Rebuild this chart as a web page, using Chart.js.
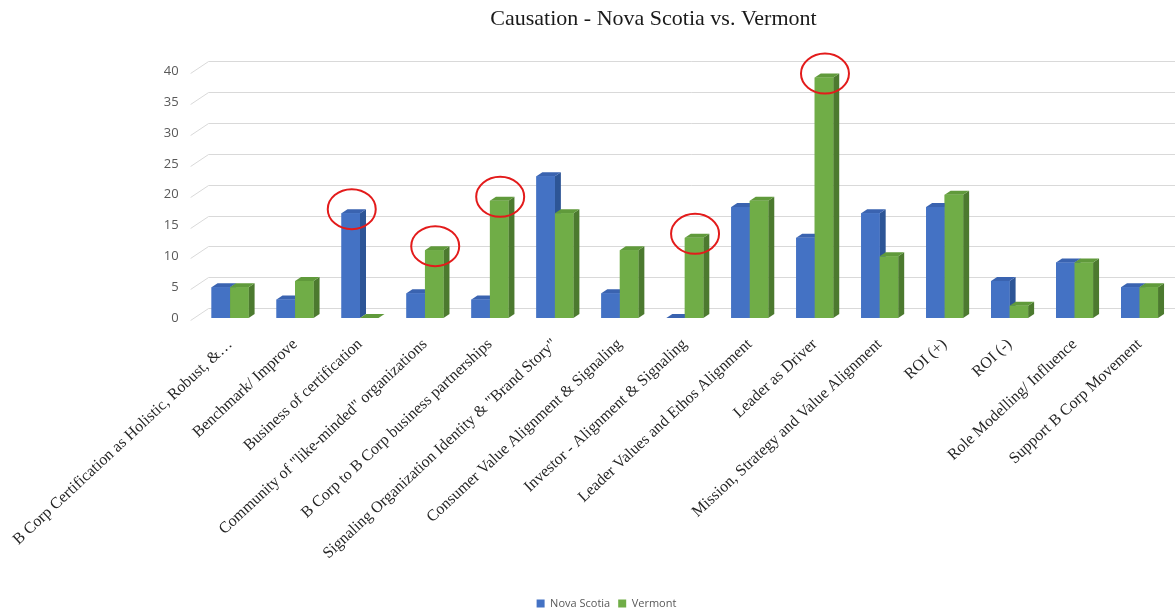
<!DOCTYPE html>
<html>
<head>
<meta charset="utf-8">
<title>Causation - Nova Scotia vs. Vermont</title>
<script src="https://cdn.jsdelivr.net/npm/chart.js@4.4.1/dist/chart.umd.min.js"></script>
<style>
    html, body { margin: 0; padding: 0; background: #ffffff; }
    #wrap { width: 1175px; height: 611px; position: relative; }
</style>
</head>
<body>
<div id="wrap"><canvas id="causeChart"></canvas></div>
<script>
// Chart data
const categories = [
    'B Corp Certification as Holistic, Robust, &\u2026',
    'Benchmark/ Improve',
    'Business of certification',
    'Community of "like-minded" organizations',
    'B Corp to B Corp business partnerships',
    'Signaling Organization Identity & "Brand Story"',
    'Consumer Value Alignment & Signaling',
    'Investor - Alignment & Signaling',
    'Leader Values and Ethos Alignment',
    'Leader as Driver',
    'Mission, Strategy and Value Alignment',
    'ROI (+)',
    'ROI (-)',
    'Role Modelling/ Influence',
    'Support B Corp Movement'
];
const novaScotia = [5, 3, 17, 4, 3, 23, 4, 0, 18, 13, 17, 18, 6, 9, 5];
const vermont    = [5, 6, 0, 11, 19, 17, 11, 13, 19, 39, 10, 20, 2, 9, 5];
const yTicks = [0, 5, 10, 15, 20, 25, 30, 35, 40];
// [dataset index, category index] of the bars circled in red
const circled = [[0, 2], [1, 3], [1, 4], [1, 7], [1, 9]];

const frontColors = ['#4472C4', '#70AD47'];
const sideColors = ['#2D5596', '#4C7A2F'];
const topColors = ['#3A63B0', '#609A3B'];

const DX = 6, DY = 4;

// Back wall gridlines with a slanted floor edge, like the 3D Excel chart
const wallGrid = {
    id: 'wallGrid',
    beforeDatasetsDraw(chart) {
        const { ctx, chartArea, scales } = chart;
        ctx.save();
        ctx.strokeStyle = '#D9D9D9';
        ctx.lineWidth = 1;
        yTicks.forEach(v => {
            const y = Math.round(scales.y.getPixelForValue(v)) + 0.5;
            ctx.beginPath();
            ctx.moveTo(chartArea.left - 7, y + 2);
            ctx.lineTo(chartArea.left + 11, y - 10);
            ctx.lineTo(chart.width, y - 10);
            ctx.stroke();
        });
        ctx.restore();
    }
};

// Extruded bars and red circles
const bars3d = {
    id: 'bars3d',
    afterDatasetsDraw(chart) {
        const ctx = chart.ctx;
        ctx.save();
        for (let i = 0; i < categories.length; i++) {
            for (let d = 0; d < 2; d++) {
                const bar = chart.getDatasetMeta(d).data[i];
                const { x, y, base, width } = bar.getProps(['x', 'y', 'base', 'width'], true);
                const l = x - width / 2;
                const r = x + width / 2;

                ctx.fillStyle = sideColors[d];
                ctx.beginPath();
                ctx.moveTo(r, y);
                ctx.lineTo(r + DX, y - DY);
                ctx.lineTo(r + DX, base - DY);
                ctx.lineTo(r, base);
                ctx.closePath();
                ctx.fill();

                ctx.fillStyle = topColors[d];
                ctx.beginPath();
                ctx.moveTo(l, y);
                ctx.lineTo(l + DX, y - DY);
                ctx.lineTo(r + DX, y - DY);
                ctx.lineTo(r, y);
                ctx.closePath();
                ctx.fill();

                ctx.fillStyle = frontColors[d];
                ctx.fillRect(l, y, width, base - y);
            }
        }

        ctx.strokeStyle = '#E31B1B';
        ctx.lineWidth = 2;
        circled.forEach(([d, i]) => {
            const bar = chart.getDatasetMeta(d).data[i];
            ctx.beginPath();
            ctx.ellipse(bar.x + 1, bar.y - 4, 24, 20, 0, 0, Math.PI * 2);
            ctx.stroke();
        });
        ctx.restore();
    },
    afterLayout(chart) {
        // legend sits left of the title centre in the original
        const lg = chart.legend;
        lg.left -= 47;
        lg.right -= 47;
        lg.top += 8;
        lg.bottom += 8;
    }
};

const ctx = document.getElementById('causeChart').getContext('2d');
new Chart(ctx, {
    type: 'bar',
    data: {
        labels: categories,
        datasets: [
            {
                label: 'Nova Scotia',
                data: novaScotia,
                backgroundColor: frontColors[0],
                borderWidth: 0
            },
            {
                label: 'Vermont',
                data: vermont,
                backgroundColor: frontColors[1],
                borderWidth: 0
            }
        ]
    },
    options: {
        responsive: true,
        maintainAspectRatio: false,
        animation: false,
        datasets: {
            bar: {
                categoryPercentage: 0.57,
                barPercentage: 1.0
            }
        },
        layout: {
            padding: { left: 135, right: 3, top: 0, bottom: 0 }
        },
        plugins: {
            title: {
                display: true,
                text: 'Causation - Nova Scotia vs. Vermont',
                color: '#1a1a1a',
                font: { family: 'Liberation Serif', size: 22, weight: 'normal' },
                padding: { top: 6, bottom: 39 }
            },
            legend: {
                position: 'bottom',
                labels: {
                    boxWidth: 8,
                    boxHeight: 8,
                    padding: 8,
                    color: '#595959',
                    font: { family: 'Open Sans', size: 11 }
                }
            },
            tooltip: { enabled: false }
        },
        scales: {
            x: {
                grid: { display: false },
                border: { display: false },
                ticks: {
                    autoSkip: false,
                    minRotation: 43,
                    maxRotation: 43,
                    padding: 9,
                    color: '#262626',
                    font: { family: 'Liberation Serif', size: 16 }
                },
                afterFit(axis) {
                    axis.height = 264;
                }
            },
            y: {
                min: 0,
                max: 40,
                grid: { display: false },
                border: { display: false },
                ticks: {
                    stepSize: 5,
                    padding: 11,
                    color: '#595959',
                    font: { family: 'Open Sans', size: 13 }
                },
                afterFit(axis) {
                    axis.width = 62;
                }
            }
        }
    },
    plugins: [wallGrid, bars3d]
});
</script>
</body>
</html>
